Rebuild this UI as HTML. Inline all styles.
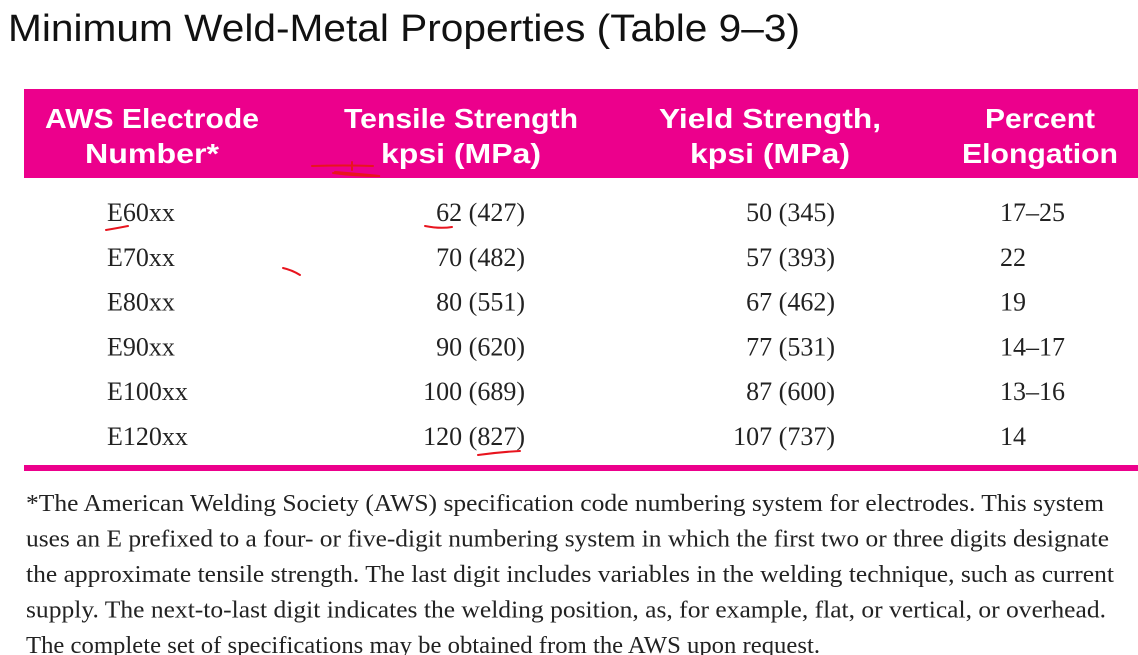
<!DOCTYPE html>
<html><head><meta charset="utf-8"><style>
html,body{margin:0;padding:0;background:#fff;width:1138px;height:655px;overflow:hidden}
svg{display:block}
</style></head><body>
<svg id="s" width="1138" height="655" viewBox="0 0 1138 655">
<text x="8" y="41" font-family="Liberation Sans, sans-serif" font-size="38" fill="#111" textLength="792" lengthAdjust="spacingAndGlyphs">Minimum Weld-Metal Properties (Table 9–3)</text>
<rect x="24" y="89" width="1114" height="89" fill="#EC008C"/>
<g font-family="Liberation Sans, sans-serif" font-weight="bold" font-size="28" fill="#fff" text-anchor="middle">
<text x="152" y="128" textLength="214" lengthAdjust="spacingAndGlyphs">AWS Electrode</text>
<text x="152" y="163" textLength="134" lengthAdjust="spacingAndGlyphs">Number*</text>
<text x="461" y="128" textLength="234" lengthAdjust="spacingAndGlyphs">Tensile Strength</text>
<text x="461" y="163" textLength="160" lengthAdjust="spacingAndGlyphs">kpsi (MPa)</text>
<text x="770" y="128" textLength="222" lengthAdjust="spacingAndGlyphs">Yield Strength,</text>
<text x="770" y="163" textLength="160" lengthAdjust="spacingAndGlyphs">kpsi (MPa)</text>
<text x="1040" y="128" textLength="110" lengthAdjust="spacingAndGlyphs">Percent</text>
<text x="1040" y="163" textLength="156" lengthAdjust="spacingAndGlyphs">Elongation</text>
</g>
<g id="rows" font-family="Liberation Serif, serif" font-size="26" fill="#222"></g>
<rect x="24" y="465" width="1114" height="6" fill="#EC008C"/>
<g id="foot" font-family="Liberation Serif, serif" font-size="24" fill="#222"></g>
<g fill="none" stroke="#e8141e" stroke-width="2" stroke-linecap="round">
<path d="M106 230 Q118 228 128 226"/>
<path d="M312 166 Q345 165 373 166 M333 173 Q355 176 380 176 Q360 174 335 172 M352 162 l0 8"/>
<path d="M283 268 Q292 270 300 275"/>
<path d="M425 226 Q440 229 452 227"/>
<path d="M478 455 Q500 452 520 451"/>
</g>
</svg>
<script>
const electrodes=["E60xx","E70xx","E80xx","E90xx","E100xx","E120xx"];
const tensile=["62 (427)","70 (482)","80 (551)","90 (620)","100 (689)","120 (827)"];
const yieldS=["50 (345)","57 (393)","67 (462)","77 (531)","87 (600)","107 (737)"];
const elong=["17–25","22","19","14–17","13–16","14"];
const footLines=["*The American Welding Society (AWS) specification code numbering system for electrodes. This system",
"uses an E prefixed to a four- or five-digit numbering system in which the first two or three digits designate",
"the approximate tensile strength. The last digit includes variables in the welding technique, such as current",
"supply. The next-to-last digit indicates the welding position, as, for example, flat, or vertical, or overhead.",
"The complete set of specifications may be obtained from the AWS upon request."];
const ns="http://www.w3.org/2000/svg";
const rows=document.getElementById('rows');
function t(parent,x,y,str,anchor,name){const e=document.createElementNS(ns,'text');e.setAttribute('x',x);e.setAttribute('y',y);if(anchor)e.setAttribute('text-anchor',anchor);e.textContent=str;


parent.appendChild(e);return e;}
electrodes.forEach((v,i)=>{const y=221+i*44.8;
t(rows,107,y,v,null,'electrode-cell');
t(rows,525,y,tensile[i],'end','tensile-cell');
t(rows,835,y,yieldS[i],'end','yield-cell');
t(rows,1000,y,elong[i],null,'elongation-cell');});
const foot=document.getElementById('foot');
const widths=[1078,1083,1088,1080,794];
footLines.forEach((l,i)=>{const e=t(foot,26,511+i*35.5,l,null,'footnote-line');e.setAttribute('textLength',widths[i]);e.setAttribute('lengthAdjust','spacingAndGlyphs');});
</script>
</body></html>
